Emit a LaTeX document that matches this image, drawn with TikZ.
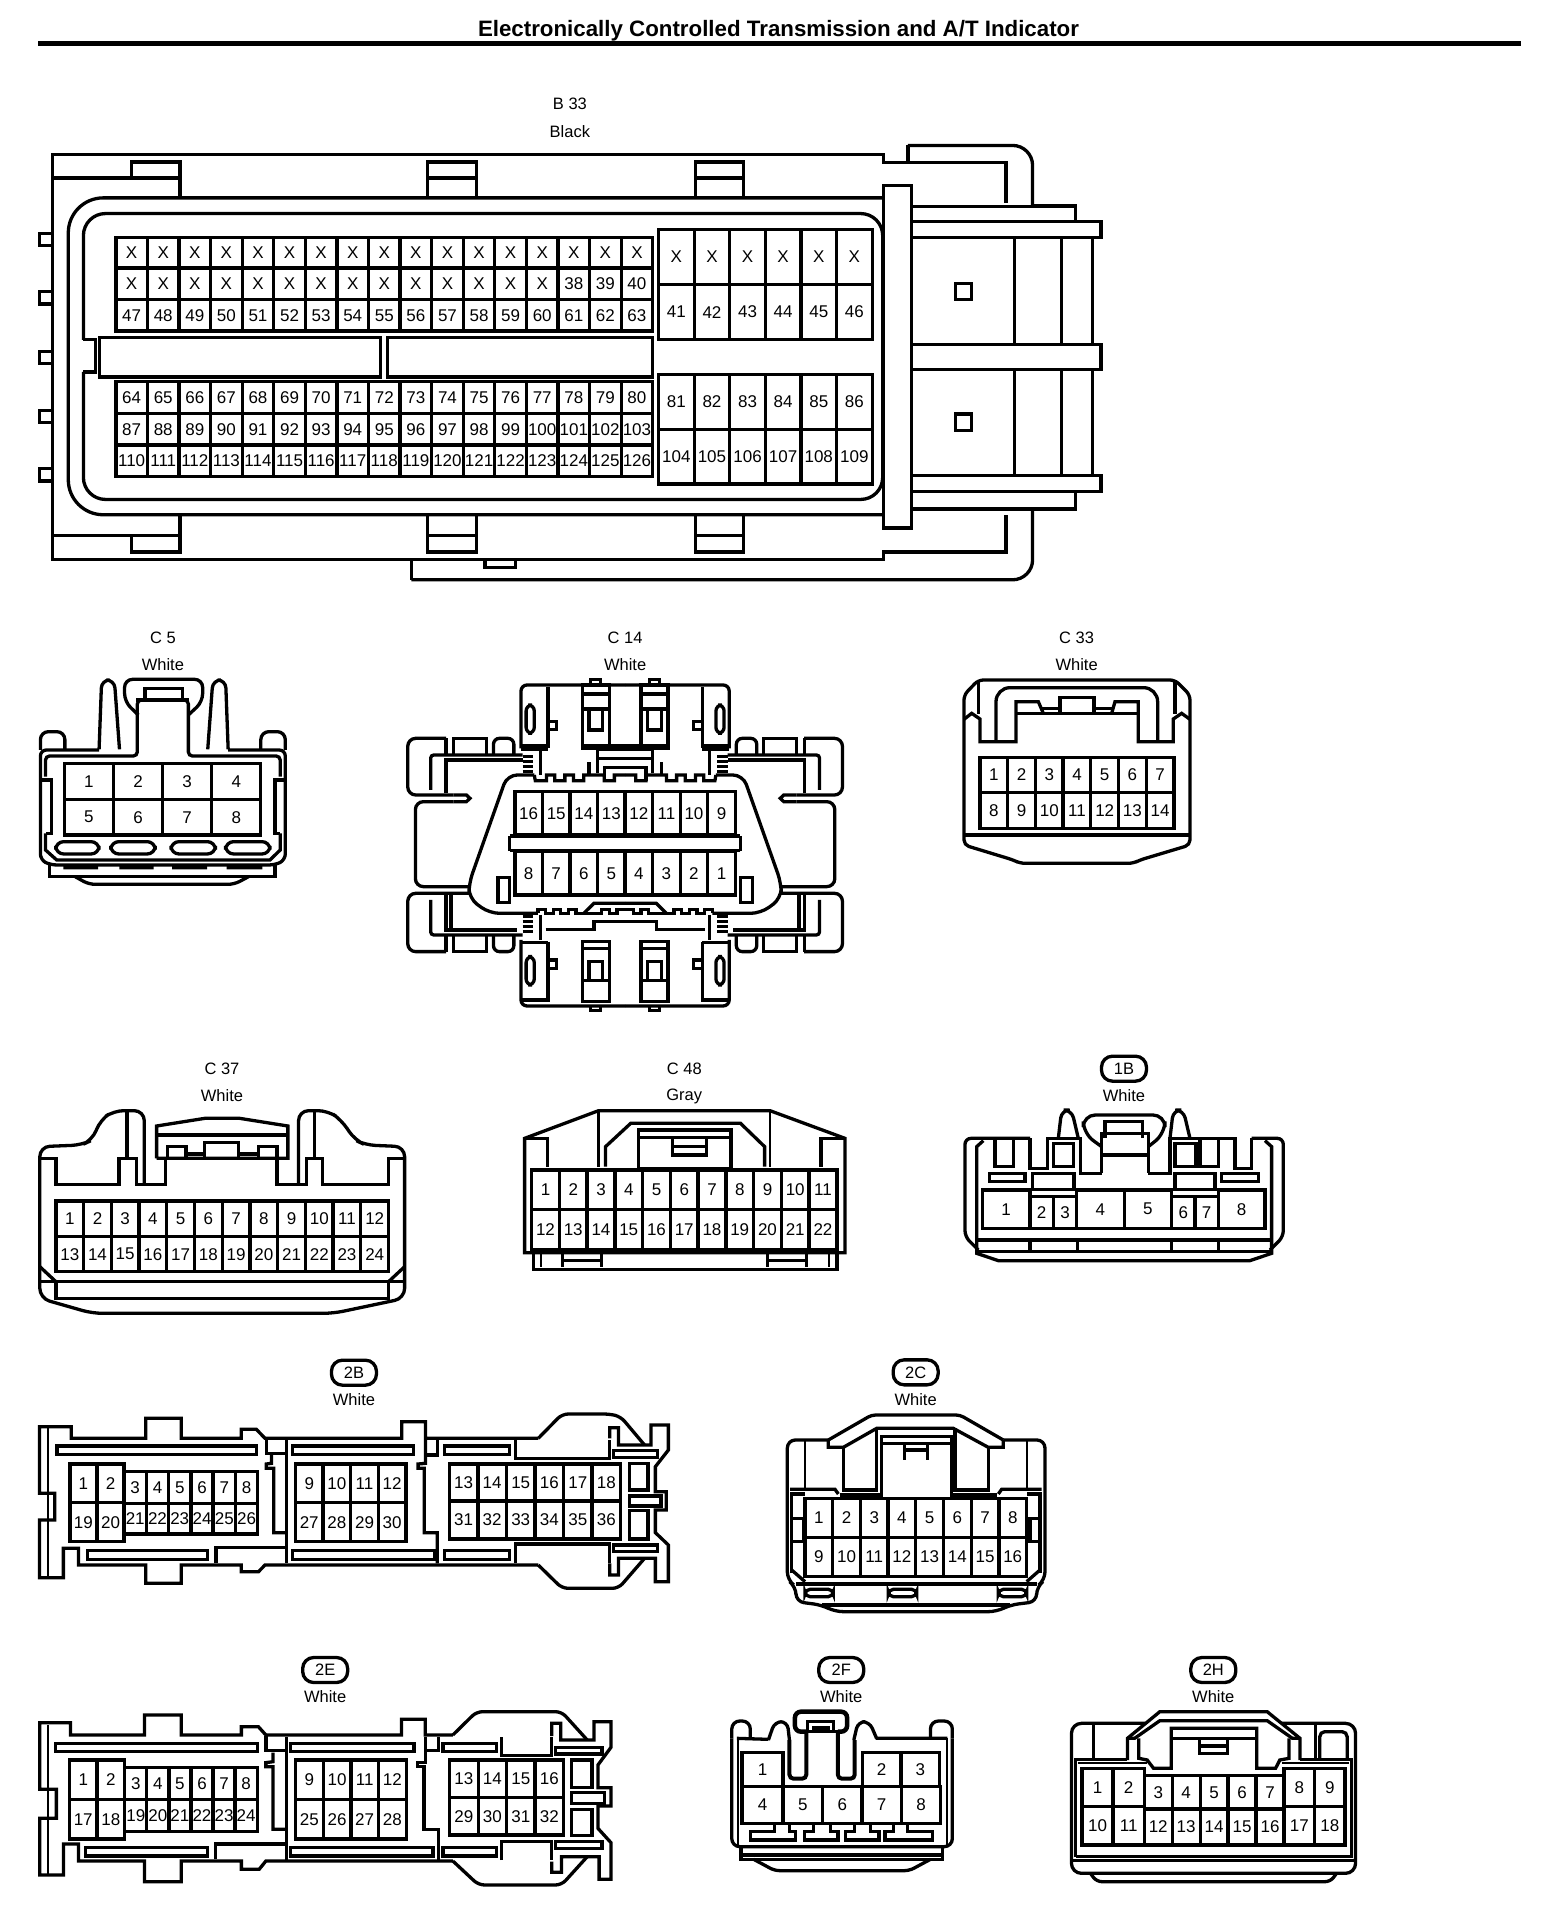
\documentclass[tikz,border=0pt]{standalone}
\usepackage{fontspec}
\setmainfont{Liberation Sans}
\newcount\pinctr
\newcount\labctr
\tikzset{
  ln/.style={draw=black,line width=3.3pt,line join=miter,line cap=butt},
  tn/.style={draw=black,line width=2.2pt,line join=miter},
  pin/.style={inner sep=0pt,font=\fontsize{17}{18}\selectfont,text=black},
  lab/.style={inner sep=0pt,font=\fontsize{16.5}{17}\selectfont,text=black},
  oval/.style={draw=black,line width=3.3pt,rounded corners=11pt,minimum width=45pt,minimum height=25pt,inner sep=0pt,font=\fontsize{16.5}{17}\selectfont},
  zm/.style n args={4}{shift={(#1,#2)},x=#3pt,y=-#4pt}
}
\newcommand\pinrow[5]{%
  \foreach \t [count=\i] in {#5}{%
    \global\advance\pinctr by 1
    \draw[ln] ({#1+(\i-1)*#2},#3) rectangle ({#1+\i*#2},#4);
    \node[pin] (p\the\pinctr) at ({#1+(\i-0.5)*#2},{(#3+#4)/2}) {\t};
  }%
}
\newcommand\conlabel[3]{%
  \global\advance\labctr by 1
  \node[lab] (l\the\labctr) at (#1,#2) {#3};%
}
\newcommand\ctfhalf{%
  % wing
  \draw[ln,rounded corners=8pt] (835,355)--(760,355)--(760,525)--(850,525);
  \draw[ln] (850,525)--(875,525)--(882,535)--(875,545)--(850,545);
  \draw[ln,rounded corners=8pt] (850,545)--(775,545)--(775,800)--(880,800);
  \draw[ln,rounded corners=8pt] (880,820)--(760,820)--(760,995)--(835,995);
  \draw[ln] (835,355)--(835,405) (850,405)--(850,355)--(915,355)--(915,405);
  \draw[ln,rounded corners=6pt] (928,405)--(928,355)--(968,355)--(968,405);
  \draw[ln,rounded corners=3pt] (985,405)--(805,405)--(805,510);
  \draw[ln] (835,520)--(835,420)--(985,420);
  \draw[ln,rounded corners=3pt] (985,945)--(805,945)--(805,840);
  \draw[ln] (835,825)--(835,930)--(975,930) (845,825)--(845,925);
  \draw[ln] (835,945)--(835,995) (850,945)--(850,995)--(915,995)--(915,945);
  \draw[ln,rounded corners=6pt] (928,945)--(928,995)--(968,995)--(968,945);
  % upper block
  \draw[ln,rounded corners=6pt] (1186,195)--(982,195)--(982,385);
  \draw[ln] (1035,200)--(1035,385) (982,378)--(1035,378) (982,388)--(1035,388);
  \draw[ln] (1102,195) rectangle (1155,385);
  \draw[ln] (1102,222)--(1155,222) (1102,267)--(1155,267) (1102,378)--(1186,378);
  \draw[ln] (1115,267)--(1115,330)--(1142,330)--(1142,267);
  \draw[ln] (1118,195)--(1118,178)--(1138,178)--(1138,195);
  \draw[ln,rounded corners=6pt] (992,255) rectangle (1008,340);
  \draw[ln] (1035,305)--(1052,305)--(1052,328)--(1035,328);
  \draw[ln] (1132,388)--(1186,388) (1132,388)--(1132,460) (1130,415)--(1186,415);
  \draw[ln] (1020,388)--(1020,465) (985,410)--(1005,410) (985,425)--(1005,425) (985,440)--(1005,440) (985,455)--(1005,455);
  \draw[ln] (1115,462)--(1115,425) (1145,482)--(1145,442)--(1186,442);
  % body
  \draw[ln,rounded corners=10pt] (1008,465)--(955,465)--(880,790)--(880,835)--(920,880)--(1015,880);
  \draw[ln] (1008,465)--(1010,482)--(1032,482)--(1032,465)--(1048,465)--(1048,482)--(1068,482)--(1068,465)--(1085,465)--(1085,482)--(1105,482)--(1105,465)--(1145,465)--(1145,482)--(1165,482)--(1165,465)--(1186,465);
  \draw[ln] (1015,880)--(1015,868)--(1030,868)--(1030,880)--(1045,880)--(1045,868)--(1060,868)--(1060,880)--(1075,880)--(1075,868)--(1090,868)--(1090,880)--(1140,880)--(1140,868)--(1155,868)--(1155,880)--(1170,880)--(1170,868)--(1186,868);
  \draw[ln] (1105,880)--(1125,850)--(1186,850);
  \draw[ln] (960,648)--(1186,648) (960,692)--(1186,692) (960,648)--(960,692);
  \draw[ln] (937,772) rectangle (960,848);
  % lower block
  \draw[ln,rounded corners=6pt] (982,960)--(982,1158)--(1186,1158);
  \draw[ln] (1035,965)--(1035,1145) (982,968)--(1035,968) (982,1140)--(1035,1140);
  \draw[ln] (1102,965) rectangle (1155,1145);
  \draw[ln] (1102,985)--(1155,985) (1102,1082)--(1155,1082);
  \draw[ln] (1115,1082)--(1115,1025)--(1142,1025)--(1142,1082);
  \draw[ln] (1118,1158)--(1118,1172)--(1138,1172)--(1138,1158);
  \draw[ln,rounded corners=6pt] (992,1010) rectangle (1008,1095);
  \draw[ln] (1035,1020)--(1052,1020)--(1052,1045)--(1035,1045);
  \draw[ln] (1020,885)--(1020,960) (1030,928)--(1125,928)--(1125,905)--(1186,905);
  \draw[ln] (985,890)--(1005,890) (985,905)--(1005,905) (985,920)--(1005,920) (985,935)--(1005,935);
}
\begin{document}
\begin{tikzpicture}[x=1pt,y=-1pt]
\useasboundingbox (0,0) rectangle (1568,1912);
\fill[white] (0,0) rectangle (1568,1912);
% title
\node[inner sep=0pt,font=\bfseries\fontsize{22.3}{24}\selectfont] (title) at (778.5,31) {Electronically Controlled Transmission and A/T Indicator};
\coordinate (ruleL) at (38,43);
\coordinate (ruleR) at (1521,43);
\draw[line width=5pt] (ruleL)--(ruleR);

% ---------- B33 ----------
\begin{scope}[zm={20}{0}{0.7207}{0.3827}]
\conlabel{763}{272}{B 33}
\conlabel{763}{345}{Black}
\draw[ln] (45,465)--(45,403)--(1198,403)--(1198,425)--(1232,425)--(1232,380);
\draw[ln,rounded corners=20pt] (1232,380)--(1405,380)--(1405,540);
\draw[ln] (1232,425)--(1368,425)--(1368,530);
\draw[ln] (1405,538)--(1465,538)--(1465,578);
\draw[ln] (45,400)--(45,1462)--(1198,1462)--(1198,1442)--(1368,1442)--(1368,1345);
\draw[ln] (543,1462)--(543,1515);
\draw[ln,rounded corners=20pt] (543,1515)--(1405,1515)--(1405,1330);
\draw[ln] (1405,1330)--(1465,1330)--(1465,1285);
\draw[ln] (645,1462)--(645,1483)--(688,1483)--(688,1462);
\draw[ln] (45,465)--(222,465)--(222,517);
\draw[ln] (155,465)--(155,423)--(222,423)--(222,465);
\draw[ln] (565,517)--(565,423)--(633,423)--(633,517) (565,465)--(633,465);
\draw[ln] (937,517)--(937,423)--(1004,423)--(1004,517) (937,465)--(1004,465);
\draw[ln] (45,1400)--(222,1400)--(222,1345);
\draw[ln] (155,1400)--(155,1442)--(222,1442)--(222,1400);
\draw[ln] (565,1345)--(565,1442)--(633,1442)--(633,1345) (565,1400)--(633,1400);
\draw[ln] (937,1345)--(937,1442)--(1004,1442)--(1004,1345) (937,1400)--(1004,1400);
\foreach \a in {610,762,918,1072,1225}{\draw[ln] (45,\a)--(27,\a)--(27,\a+32)--(45,\a+32);}
\draw[ln,rounded corners=35pt] (1198,517)--(67,517)--(67,1345)--(1198,1345);
\draw[ln] (88,888)--(105,888)--(105,972)--(88,972);
\draw[ln,rounded corners=22pt] (88,888)--(88,558)--(1197,558)--(1197,1305)--(88,1305)--(88,972);
\draw[ln] (1198,530) .. controls (1214,570) and (1222,610) .. (1222,650)--(1222,1220) .. controls (1222,1260) and (1214,1300) .. (1198,1335);
\draw[ln,fill=white] (1198,485) rectangle (1237,1380);
\draw[ln] (1237,540)--(1405,540) (1237,1330)--(1405,1330);
\draw[ln] (1237,578)--(1500,578)--(1500,620)--(1237,620);
\draw[ln] (1237,900)--(1500,900)--(1500,965)--(1237,965);
\draw[ln] (1237,1243)--(1500,1243)--(1500,1285)--(1237,1285);
\draw[tn] (1380,620)--(1380,900) (1445,620)--(1445,900) (1380,965)--(1380,1243) (1445,965)--(1445,1243);
\draw[ln] (1488,620)--(1488,900) (1488,965)--(1488,1243);
\draw[ln] (1298,740) rectangle (1320,783) (1298,1082) rectangle (1320,1125);
\draw[ln] (110,882) rectangle (500,985) (510,882) rectangle (878,985);
\pinrow{133}{43.82}{620}{700}{X,X,X,X,X,X,X,X,X,X,X,X,X,X,X,X,X}
\pinrow{133}{43.82}{700}{783}{X,X,X,X,X,X,X,X,X,X,X,X,X,X,38,39,40}
\pinrow{133}{43.82}{783}{865}{47,48,49,50,51,52,53,54,55,56,57,58,59,60,61,62,63}
\pinrow{133}{43.82}{997}{1080}{64,65,66,67,68,69,70,71,72,73,74,75,76,77,78,79,80}
\pinrow{133}{43.82}{1080}{1163}{87,88,89,90,91,92,93,94,95,96,97,98,99,100,101,102,103}
\pinrow{133}{43.82}{1163}{1245}{110,111,112,113,114,115,116,117,118,119,120,121,122,123,124,125,126}
\pinrow{886}{49.4}{600}{743}{X,X,X,X,X,X}
\pinrow{886}{49.4}{743}{888}{41,42,43,44,45,46}
\pinrow{886}{49.4}{978}{1122}{81,82,83,84,85,86}
\pinrow{886}{49.4}{1122}{1265}{104,105,106,107,108,109}
\end{scope}

% ---------- C5 ----------
\begin{scope}[zm={20}{620}{0.5102}{0.3333}]
\conlabel{280}{52}{C 5}
\conlabel{280}{135}{White}
\draw[ln,rounded corners=6pt] (155,390)--(40,390)--(40,720)--(60,735)--(500,735)--(520,720)--(520,390)--(408,390);
\draw[ln,rounded corners=8pt] (40,390)--(40,335)--(88,335)--(88,390);
\draw[ln,rounded corners=8pt] (472,390)--(472,335)--(520,335)--(520,390);
\draw[ln,rounded corners=8pt] (155,388)--(160,180)--(185,180)--(195,388);
\draw[ln,rounded corners=8pt] (368,388)--(378,180)--(403,180)--(408,388);
\draw[ln,rounded corners=4pt] (50,470)--(50,408)--(230,408)--(230,240)--(330,240)--(330,408)--(510,408)--(510,470);
\draw[ln,rounded corners=8pt] (232,285)--(205,245)--(205,178)--(358,178)--(358,245)--(330,285);
\draw[ln] (245,240)--(245,205)--(318,205)--(318,240);
\draw[ln] (228,240)--(332,240);
\draw[ln] (42,480)--(62,480)--(62,640)--(50,640) (518,480)--(500,480)--(500,640)--(510,640);
\draw[ln] (50,640)--(50,690)--(72,720)--(490,720)--(510,690)--(510,640);
\draw[ln,rounded corners=8pt] (70,665) rectangle (155,702) (178,665) rectangle (265,702) (296,665) rectangle (383,702) (403,665) rectangle (490,702);
\draw[ln] (58,735)--(58,770)--(500,770)--(500,735);
\fill (85,735) rectangle (153,748) (195,735) rectangle (262,748) (298,735) rectangle (367,748) (405,735) rectangle (475,748);
\draw[ln,rounded corners=6pt] (108,770)--(135,793)--(420,793)--(448,770);
\pinrow{87}{96.25}{430}{538}{1,2,3,4}
\pinrow{87}{96.25}{538}{645}{5,6,7,8}
\end{scope}

% ---------- C14 ----------
\begin{scope}[zm={20}{620}{0.5102}{0.3333}]
\conlabel{1186}{52}{C 14}
\conlabel{1186}{135}{White}
\ctfhalf
\begin{scope}[xshift=1210.2pt,xscale=-1]
\ctfhalf
\end{scope}
\pinrow{970}{54}{515}{645}{16,15,14,13,12,11,10,9}
\pinrow{970}{54}{695}{825}{8,7,6,5,4,3,2,1}
\end{scope}

% ---------- C33 ----------
\begin{scope}[zm={940}{620}{0.3333}{0.3333}]
\conlabel{410}{52}{C 33}
\conlabel{410}{135}{White}
\draw[ln,rounded corners=5pt] (72,225)--(115,180)--(705,180)--(750,225)--(750,675)--(600,720)--(580,730)--(240,730)--(220,720)--(72,675)--cycle;
\draw[ln] (115,180)--(115,283) (705,180)--(705,283);
\draw[ln] (72,298)--(95,280)--(120,297)--(120,365)--(228,365)--(228,245)--(295,245)--(310,280);
\draw[ln] (750,298)--(725,280)--(700,297)--(700,365)--(595,365)--(595,245)--(525,245)--(515,280);
\draw[ln] (228,280)--(595,280);
\draw[ln,rounded corners=14pt] (168,365)--(168,203)--(653,203)--(653,365);
\draw[ln] (360,280)--(360,233)--(462,233)--(462,280) (305,265)--(360,265) (462,265)--(520,265);
\draw[ln] (72,645)--(750,645);
\pinrow{120}{83.14}{412}{518}{1,2,3,4,5,6,7}
\pinrow{120}{83.14}{518}{625}{8,9,10,11,12,13,14}
\end{scope}

% ---------- C37 ----------
\begin{scope}[zm={20}{1050}{0.5357}{0.3333}]
\conlabel{377}{55}{C 37}
\conlabel{377}{138}{White}
\draw[ln,rounded corners=10pt] (232,405)--(232,182)--(175,182)--(150,210)--(135,270)--(115,285)--(37,290)--(37,745)--(135,790)--(585,790)--(718,745)--(718,290)--(645,285)--(625,270)--(600,210)--(575,182)--(520,182)--(520,405);
\draw[ln] (200,182)--(200,325) (550,182)--(550,325);
\draw[ln] (40,325)--(67,325)--(67,403)--(185,403)--(185,325)--(218,325)--(218,403)--(272,403)--(272,325);
\draw[ln] (715,325)--(688,325)--(688,403)--(565,403)--(565,325)--(535,325)--(535,403)--(480,403)--(480,325);
\draw[ln] (255,325)--(255,228)--(345,205)--(410,205)--(500,228)--(500,325)--(255,325);
\draw[ln] (255,255)--(500,255);
\draw[ln] (275,325)--(275,290)--(310,290)--(310,325) (345,325)--(345,278)--(408,278)--(408,325) (445,325)--(445,290)--(480,290)--(480,325) (310,312)--(345,312) (408,312)--(445,312);
\draw[ln] (37,650)--(67,695) (718,650)--(688,695);
\draw[ln] (37,695)--(718,695);
\draw[ln] (67,695)--(67,745)--(688,745)--(688,695);
\pinrow{67}{51.75}{453}{560}{1,2,3,4,5,6,7,8,9,10,11,12}
\pinrow{67}{51.75}{560}{665}{13,14,15,16,17,18,19,20,21,22,23,24}
\end{scope}

% ---------- C48 ----------
\begin{scope}[zm={20}{1050}{0.5357}{0.3333}]
\conlabel{1240}{55}{C 48}
\conlabel{1240}{140}{Gray}
\draw[ln] (942,265)--(1080,182)--(1400,182)--(1540,265)--(1540,608)--(942,608)--cycle;
\draw[ln] (942,265)--(985,265)--(985,350) (1540,265)--(1495,265)--(1495,350);
\draw[tn] (1080,182)--(1080,350) (1400,182)--(1400,350);
\draw[ln] (1093,350)--(1093,290)--(1140,220)--(1345,220)--(1390,290)--(1390,350);
\draw[ln] (1155,240) rectangle (1327,355);
\draw[ln] (1155,262)--(1327,262);
\draw[ln] (1218,262)--(1218,315)--(1282,315)--(1282,262) (1218,290)--(1282,290);
\draw[ln] (958,608)--(958,658)--(1525,658)--(1525,608);
\draw[tn] (972,612)--(972,650) (1510,612)--(1510,650);
\draw[ln] (1013,612)--(1013,650) (1085,612)--(1085,650) (1013,632)--(1085,632);
\draw[ln] (1395,612)--(1395,650) (1468,612)--(1468,650) (1395,632)--(1468,632);
\pinrow{955}{51.8}{360}{478}{1,2,3,4,5,6,7,8,9,10,11}
\pinrow{955}{51.8}{478}{598}{12,13,14,15,16,17,18,19,20,21,22}
\end{scope}

% ---------- 1B ----------
\begin{scope}[zm={950}{1050}{0.3333}{0.3333}]
\node[oval] (o1B) at (522,56) {1B};
\conlabel{522}{138}{White}
\draw[ln,rounded corners=8pt] (325,265)--(335,180)--(365,180)--(385,265);
\draw[ln,rounded corners=8pt] (660,265)--(670,180)--(700,180)--(720,265);
\draw[ln,rounded corners=6pt] (85,600)--(45,560)--(45,265)--(240,265);
\draw[ln] (240,265)--(240,355)--(293,355)--(293,265)--(392,265)--(392,370)--(455,370);
\draw[ln] (595,370)--(660,370)--(660,265)--(855,265)--(855,355)--(905,355)--(905,265);
\draw[ln,rounded corners=6pt] (905,265)--(1000,265)--(1000,560)--(960,600);
\draw[ln] (100,272)--(80,290)--(80,610)--(145,632)--(900,632)--(965,610)--(965,290)--(945,272);
\draw[ln] (455,370)--(455,250)--(595,250)--(595,370) (455,315)--(595,315);
\draw[ln,rounded corners=12pt] (455,290)--(400,250)--(400,195)--(645,195)--(645,250)--(595,290);
\draw[ln] (465,265)--(465,215)--(578,215)--(578,265);
\draw[ln] (135,270)--(135,350)--(190,350)--(190,270);
\draw[ln] (310,280) rectangle (370,350) (675,280) rectangle (738,350);
\draw[ln] (750,270)--(750,350)--(805,350)--(805,270);
\draw[ln] (118,370) rectangle (225,395) (248,370) rectangle (372,418) (675,370) rectangle (795,418) (815,370) rectangle (925,395);
\pinrow{97}{143}{420}{535}{1}
\pinrow{240}{70}{440}{535}{2,3}
\pinrow{380}{142.5}{420}{535}{4,5}
\pinrow{665}{70}{440}{535}{6,7}
\pinrow{805}{140}{420}{535}{8}
\draw[ln] (85,570)--(960,570) (80,605)--(965,605);
\draw[ln] (240,570)--(240,605) (382,570)--(382,605) (664,570)--(664,605) (805,570)--(805,605);
\end{scope}

% ---------- 2B ----------
\begin{scope}[zm={20}{1360}{0.4337}{0.3333}]
\node[oval] (o2B) at (770,38) {2B};
\conlabel{770}{118}{White}
\draw[ln] (1195,235)--(935,235)--(935,185)--(880,185)--(880,235)--(565,235)--(545,208)--(510,208)--(510,235)--(372,235)--(372,175)--(290,175)--(290,235)--(118,235)--(118,200)--(45,200)--(45,400)--(80,400)--(80,480)--(45,480)--(45,653)--(100,653)--(100,565)--(135,565)--(135,615)--(290,615)--(290,670)--(372,670)--(372,615)--(510,615)--(510,635)--(550,635)--(565,615)--(1195,615);
\draw[ln,rounded corners=6pt] (1195,235)--(1250,162)--(1360,162)--(1385,170)--(1440,255);
\draw[ln,rounded corners=6pt] (1195,615)--(1250,685)--(1380,685)--(1440,595);
\draw[ln] (1360,235)--(1360,203)--(1380,203)--(1380,255)--(1455,255)--(1455,195)--(1495,195)--(1495,270)--(1465,320)--(1465,395)--(1490,395)--(1490,450)--(1465,450)--(1465,518)--(1495,555)--(1495,665)--(1465,665)--(1465,595)--(1380,595)--(1380,645)--(1360,645)--(1360,610);
\draw[tn] (65,205)--(65,650);
\draw[ln] (85,258) rectangle (545,283) (628,258) rectangle (908,283) (978,258) rectangle (1128,283) (155,572) rectangle (432,598) (628,572) rectangle (955,598) (978,572) rectangle (1128,598) (1368,272) rectangle (1470,292) (1368,555) rectangle (1470,575) (1405,310) rectangle (1448,390) (1405,452) rectangle (1448,537) (1405,408) rectangle (1478,438);
\draw[ln] (1142,240)--(1142,295)--(1360,295)--(1360,240) (1142,610)--(1142,552)--(1360,552)--(1360,610);
\draw[ln] (452,610)--(452,562)--(615,562);
\draw[ln] (615,240)--(615,610) (568,235)--(568,280)--(615,280);
\draw[ln] (580,285)--(580,310)--(568,312)--(568,325)--(585,325)--(585,518)--(615,518);
\draw[ln] (935,240)--(935,310)--(918,312)--(918,325)--(932,325)--(932,518)--(962,518)--(962,610);
\draw[ln] (962,240)--(962,285)--(935,285);
\pinrow{115}{62.5}{312}{428}{1,2}
\pinrow{240}{51.33}{335}{430}{3,4,5,6,7,8}
\pinrow{115}{62.5}{428}{545}{19,20}
\pinrow{240}{51.33}{430}{522}{21,22,23,24,25,26}
\pinrow{635}{63.75}{312}{428}{9,10,11,12}
\pinrow{635}{63.75}{428}{545}{27,28,29,30}
\pinrow{990}{65.83}{312}{423}{13,14,15,16,17,18}
\pinrow{990}{65.83}{423}{537}{31,32,33,34,35,36}
\end{scope}

% ---------- 2C ----------
\begin{scope}[zm={770}{1360}{0.3333}{0.3333}]
\node[oval] (o2C) at (437,37) {2C};
\conlabel{437}{118}{White}
\draw[ln,rounded corners=8pt] (175,240)--(52,240)--(52,660)--(78,680)--(78,725)--(155,735)--(195,755)--(680,755)--(720,735)--(800,725)--(800,680)--(825,660)--(825,240)--(700,240);
\draw[ln,rounded corners=4pt] (175,240)--(305,165)--(570,165)--(700,240);
\draw[ln] (175,240)--(175,262)--(220,262)--(320,205)--(550,205)--(655,262)--(700,262)--(700,240);
\draw[tn] (105,240)--(105,385) (770,240)--(770,385);
\draw[ln] (60,388)--(195,388)--(205,402) (685,402)--(695,388)--(815,388);
\draw[ln] (220,262)--(220,390)--(320,390)--(320,205) (655,262)--(655,390)--(555,390)--(555,205);
\draw[ln] (210,405)--(335,405)--(335,230)--(545,230)--(545,405)--(680,405) (335,250)--(545,250);
\draw[ln] (403,250)--(403,300) (473,250)--(473,300) (403,270)--(473,270);
\draw[ln] (65,640)--(65,402)--(105,402) (810,640)--(810,402)--(770,402);
\draw[ln] (65,475)--(100,475)--(100,545)--(65,545) (810,475)--(780,475)--(780,545)--(810,545);
\draw[ln] (65,630)--(105,665) (810,630)--(770,665);
\draw[ln] (78,672)--(800,672);
\draw[ln,rounded corners=5pt] (105,688) rectangle (190,710) (355,688) rectangle (440,710) (685,688) rectangle (770,710);
\draw[ln] (155,735)--(720,735);
\pinrow{105}{83.1}{415}{532}{1,2,3,4,5,6,7,8}
\pinrow{105}{83.1}{532}{650}{9,10,11,12,13,14,15,16}
\end{scope}

% ---------- 2E ----------
\begin{scope}[zm={20}{1660}{0.3953}{0.3333}]
\node[oval] (o2E) at (772,30) {2E};
\conlabel{772}{110}{White}
\draw[ln] (1095,225)--(1025,225)--(1025,178)--(965,178)--(965,225)--(622,225)--(603,200)--(560,200)--(560,225)--(408,225)--(408,165)--(315,165)--(315,225)--(128,225)--(128,188)--(50,188)--(50,388)--(92,388)--(92,475)--(50,475)--(50,645)--(110,645)--(110,552)--(148,552)--(148,603)--(315,603)--(315,665)--(408,665)--(408,603)--(560,603)--(560,628)--(605,628)--(622,603)--(1095,603);
\draw[ln,rounded corners=6pt] (1095,225)--(1155,155)--(1370,155)--(1435,240);
\draw[ln,rounded corners=6pt] (1095,603)--(1160,675)--(1370,675)--(1435,590);
\draw[ln] (1345,228)--(1345,190)--(1368,190)--(1368,240)--(1452,240)--(1452,185)--(1495,185)--(1495,262)--(1462,315)--(1462,383)--(1495,383)--(1495,438)--(1462,438)--(1462,505)--(1495,548)--(1495,658)--(1465,658)--(1465,590)--(1370,590)--(1370,637)--(1345,637)--(1345,605);
\draw[tn] (70,195)--(70,642);
\draw[ln] (90,250) rectangle (600,275) (685,250) rectangle (997,275) (1070,250) rectangle (1205,275) (165,562) rectangle (475,588) (685,562) rectangle (1045,588) (1070,562) rectangle (1205,588) (1355,262) rectangle (1472,282) (1355,545) rectangle (1472,565) (1395,300) rectangle (1447,382) (1395,398) rectangle (1478,430) (1395,448) rectangle (1447,527);
\draw[ln] (1218,232)--(1218,287)--(1345,287)--(1345,230) (1218,600)--(1218,545)--(1345,545)--(1345,600);
\draw[ln] (495,598)--(495,552)--(675,552);
\draw[ln] (675,232)--(675,600) (622,228)--(622,272)--(675,272);
\draw[ln] (640,278)--(640,305)--(622,308)--(622,320)--(640,320)--(640,508)--(675,508);
\draw[ln] (1025,232)--(1025,308)--(1005,308)--(1005,320)--(1022,320)--(1022,508)--(1058,508)--(1058,600);
\draw[ln] (1058,232)--(1058,272)--(1025,272);
\pinrow{125}{70}{300}{418}{1,2}
\pinrow{265}{55.83}{322}{418}{3,4,5,6,7,8}
\pinrow{125}{70}{418}{537}{17,18}
\pinrow{265}{55.83}{418}{515}{19,20,21,22,23,24}
\pinrow{697}{70}{300}{418}{9,10,11,12}
\pinrow{697}{70}{418}{537}{25,26,27,28}
\pinrow{1087}{72}{300}{412}{13,14,15,16}
\pinrow{1087}{72}{412}{525}{29,30,31,32}
\end{scope}

% ---------- 2F ----------
\begin{scope}[zm={720}{1660}{0.4209}{0.3333}]
\node[oval] (o2F) at (288,30) {2F};
\conlabel{288}{110}{White}
\draw[ln,rounded corners=8pt] (28,235)--(28,560)--(552,560)--(552,235);
\draw[ln,rounded corners=8pt] (28,235)--(28,183)--(72,183)--(72,235);
\draw[ln,rounded corners=8pt] (500,235)--(500,183)--(552,183)--(552,235);
\draw[ln] (40,235)--(115,238) (370,235)--(540,235);
\draw[tn] (42,235)--(42,555) (540,235)--(540,555);
\draw[ln,rounded corners=7pt] (115,240)--(130,185)--(160,185)--(165,240);
\draw[ln,rounded corners=7pt] (318,240)--(328,185)--(355,185)--(372,235);
\draw[line width=4.5pt,rounded corners=6pt] (205,215)--(178,215)--(178,155)--(302,155)--(302,215)--(280,215);
\draw[ln] (208,215)--(208,185)--(270,185)--(270,215) (222,202) rectangle (258,212);
\draw[ln] (200,215)--(280,215);
\draw[line width=4pt,rounded corners=4pt] (165,240)--(165,356)--(205,356)--(205,215);
\draw[line width=4pt,rounded corners=4pt] (280,215)--(280,356)--(320,356)--(320,240);
\pinrow{52}{98}{278}{380}{1}
\pinrow{338}{92}{278}{380}{2,3}
\pinrow{52}{98}{380}{490}{4}
\pinrow{150}{93.6}{380}{490}{5,6,7,8}
\draw[ln] (165,495)--(165,515)--(180,515)--(180,540)--(72,540)--(72,515)--(130,515)--(130,495);
\draw[ln] (262,495)--(262,515)--(280,515)--(280,540)--(200,540)--(200,515)--(222,515)--(222,495);
\draw[ln] (358,495)--(358,515)--(378,515)--(378,540)--(298,540)--(298,515)--(320,515)--(320,495);
\draw[ln] (445,495)--(445,515)--(505,515)--(505,540)--(392,540)--(392,515)--(412,515)--(412,495);
\draw[ln] (50,562)--(50,598)--(528,598)--(528,562) (50,585)--(528,585);
\draw[ln,rounded corners=5pt] (80,598)--(130,632)--(450,632)--(500,598);
\end{scope}

% ---------- 2H ----------
\begin{scope}[zm={720}{1660}{0.4209}{0.3333}]
\node[oval] (o2H) at (1172,30) {2H};
\conlabel{1172}{110}{White}
\draw[ln,rounded corners=10pt] (1010,190)--(835,190)--(835,640)--(1510,640)--(1510,190)--(1335,190);
\draw[ln] (835,602)--(1510,602);
\draw[ln] (888,190)--(888,295) (1415,190)--(1415,295);
\draw[ln,rounded corners=5pt] (1425,295)--(1425,215)--(1490,215)--(1490,295);
\draw[ln] (968,300)--(968,235)--(1045,155)--(1300,155)--(1378,235)--(1378,300);
\draw[ln] (968,235)--(985,235)--(1045,182)--(1300,182)--(1360,235)--(1378,235);
\draw[ln] (995,235)--(995,295)--(1015,300)--(1030,325)--(1072,325)--(1072,205)--(1275,205)--(1275,325)--(1320,325)--(1330,300)--(1352,295)--(1352,235);
\draw[ln] (1072,235)--(1275,235);
\draw[ln] (1140,235)--(1140,280)--(1205,280)--(1205,235) (1140,258)--(1205,258);
\draw[ln] (845,590)--(845,298)--(968,298) (1378,298)--(1500,298)--(1500,590)--(845,590);
\draw[tn] (850,310)--(1015,310) (1335,310)--(1495,310);
\pinrow{860}{74}{325}{440}{1,2}
\pinrow{860}{74}{440}{555}{10,11}
\pinrow{1008}{66.4}{347}{447}{3,4,5,6,7}
\pinrow{1008}{66.4}{447}{555}{12,13,14,15,16}
\pinrow{1340}{72.5}{325}{440}{8,9}
\pinrow{1340}{72.5}{440}{555}{17,18}
\draw[ln,rounded corners=5pt] (880,640)--(895,665)--(1450,665)--(1465,640);
\end{scope}
\end{tikzpicture}
\end{document}
